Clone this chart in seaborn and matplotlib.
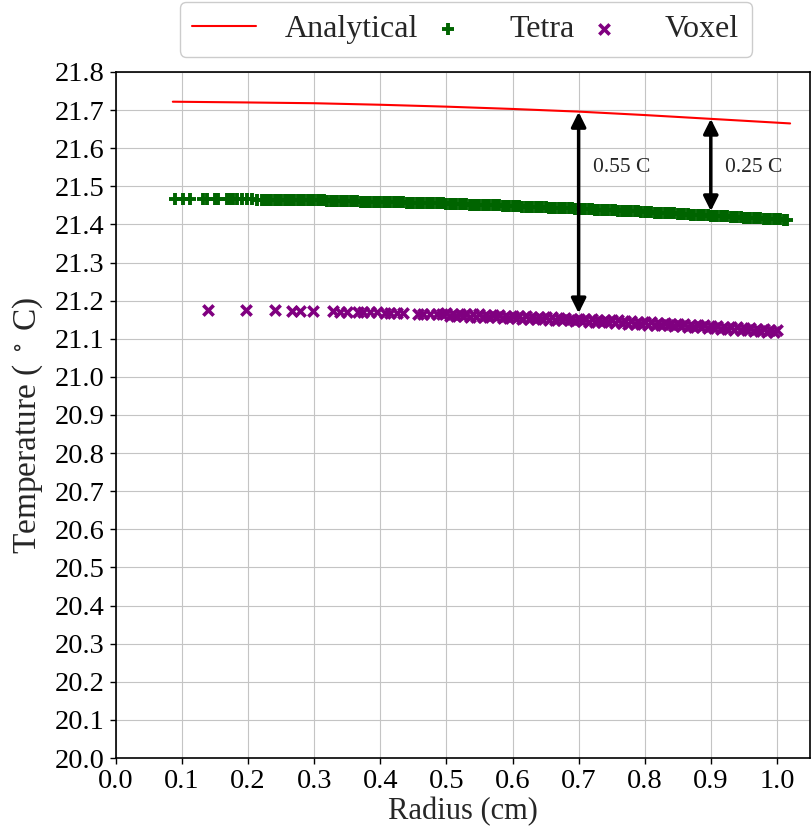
import matplotlib
matplotlib.use("Agg")
import matplotlib.pyplot as plt
import seaborn as sns
import pandas as pd

# ---------------- data ----------------
analytical_r = [0.086, 0.20, 0.30, 0.40, 0.50, 0.60, 0.70, 0.80, 0.90, 1.02]
analytical_t = [21.722, 21.720, 21.718, 21.714, 21.709, 21.703, 21.696, 21.687, 21.677, 21.665]

tetra_r = [0.089, 0.101, 0.112, 0.132, 0.138, 0.150, 0.155, 0.168, 0.172, 0.177,
           0.183, 0.190, 0.198, 0.206, 0.213, 0.221,
           0.225, 0.230, 0.235, 0.240, 0.245, 0.250, 0.255, 0.260, 0.265, 0.270,
           0.275, 0.280, 0.285, 0.290, 0.295, 0.300, 0.305, 0.310, 0.315, 0.320,
           0.325, 0.330, 0.335, 0.340, 0.345, 0.350, 0.355, 0.360, 0.365, 0.370,
           0.375, 0.380, 0.385, 0.390, 0.395, 0.400, 0.405, 0.410, 0.415, 0.420,
           0.425, 0.430, 0.435, 0.440, 0.445, 0.450, 0.455, 0.460, 0.465, 0.470,
           0.475, 0.480, 0.485, 0.490, 0.495, 0.500, 0.505, 0.510, 0.515, 0.520,
           0.525, 0.530, 0.535, 0.540, 0.545, 0.550, 0.555, 0.560, 0.565, 0.570,
           0.575, 0.580, 0.585, 0.590, 0.595, 0.600, 0.605, 0.610, 0.615, 0.620,
           0.625, 0.630, 0.635, 0.640, 0.645, 0.650, 0.655, 0.660, 0.665, 0.670,
           0.675, 0.680, 0.685, 0.690, 0.695, 0.700, 0.705, 0.710, 0.715, 0.720,
           0.725, 0.730, 0.735, 0.740, 0.745, 0.750, 0.755, 0.760, 0.765, 0.770,
           0.775, 0.780, 0.785, 0.790, 0.795, 0.800, 0.805, 0.810, 0.815, 0.820,
           0.825, 0.830, 0.835, 0.840, 0.845, 0.850, 0.855, 0.860, 0.865, 0.870,
           0.875, 0.880, 0.885, 0.890, 0.895, 0.900, 0.905, 0.910, 0.915, 0.920,
           0.925, 0.930, 0.935, 0.940, 0.945, 0.950, 0.955, 0.960, 0.965, 0.970,
           0.975, 0.980, 0.985, 0.990, 0.995, 1.000, 1.005, 1.010, 1.015]
tetra_t = [21.467, 21.467, 21.467, 21.467, 21.467, 21.466, 21.466, 21.466, 21.466, 21.466,
           21.466, 21.466, 21.466, 21.466, 21.465, 21.465,
           21.465, 21.465, 21.465, 21.465, 21.465, 21.465, 21.464, 21.464, 21.464, 21.464,
           21.464, 21.464, 21.464, 21.463, 21.463, 21.463, 21.463, 21.463, 21.463, 21.462,
           21.462, 21.462, 21.462, 21.462, 21.461, 21.461, 21.461, 21.461, 21.461, 21.460,
           21.460, 21.460, 21.460, 21.460, 21.459, 21.459, 21.459, 21.459, 21.459, 21.458,
           21.458, 21.458, 21.458, 21.457, 21.457, 21.457, 21.457, 21.456, 21.456, 21.456,
           21.456, 21.455, 21.455, 21.455, 21.455, 21.454, 21.454, 21.454, 21.453, 21.453,
           21.453, 21.453, 21.452, 21.452, 21.452, 21.451, 21.451, 21.451, 21.450, 21.450,
           21.450, 21.450, 21.449, 21.449, 21.449, 21.448, 21.448, 21.448, 21.447, 21.447,
           21.447, 21.446, 21.446, 21.445, 21.445, 21.445, 21.444, 21.444, 21.444, 21.443,
           21.443, 21.443, 21.442, 21.442, 21.441, 21.441, 21.441, 21.440, 21.440, 21.440,
           21.439, 21.439, 21.438, 21.438, 21.437, 21.437, 21.437, 21.436, 21.436, 21.435,
           21.435, 21.435, 21.434, 21.434, 21.433, 21.433, 21.432, 21.432, 21.431, 21.431,
           21.431, 21.430, 21.430, 21.429, 21.429, 21.428, 21.428, 21.427, 21.427, 21.426,
           21.426, 21.425, 21.425, 21.424, 21.424, 21.423, 21.423, 21.422, 21.422, 21.421,
           21.421, 21.420, 21.420, 21.419, 21.419, 21.418, 21.418, 21.417, 21.417, 21.416,
           21.416, 21.415, 21.415, 21.414, 21.414, 21.413, 21.413, 21.412, 21.411]

voxel_r = [0.139, 0.197, 0.241, 0.266, 0.278, 0.298, 0.328, 0.339, 0.349, 0.366,
           0.374, 0.384, 0.395, 0.407, 0.415, 0.425, 0.434, 0.457, 0.464, 0.475,
           0.486, 0.494,
           0.500, 0.505, 0.510, 0.515, 0.520, 0.525, 0.530, 0.535, 0.540, 0.545,
           0.550, 0.555, 0.560, 0.565, 0.570, 0.575, 0.580, 0.585, 0.590, 0.595,
           0.600, 0.605, 0.610, 0.615, 0.620, 0.625, 0.630, 0.635, 0.640, 0.645,
           0.650, 0.655, 0.660, 0.665, 0.670, 0.675, 0.680, 0.685, 0.690, 0.695,
           0.700, 0.705, 0.710, 0.715, 0.720, 0.725, 0.730, 0.735, 0.740, 0.745,
           0.750, 0.755, 0.760, 0.765, 0.770, 0.775, 0.780, 0.785, 0.790, 0.795,
           0.800, 0.805, 0.810, 0.815, 0.820, 0.825, 0.830, 0.835, 0.840, 0.845,
           0.850, 0.855, 0.860, 0.865, 0.870, 0.875, 0.880, 0.885, 0.890, 0.895,
           0.900, 0.905, 0.910, 0.915, 0.920, 0.925, 0.930, 0.935, 0.940, 0.945,
           0.950, 0.955, 0.960, 0.965, 0.970, 0.975, 0.980, 0.985, 0.990, 0.995,
           1.000]
voxel_t = [21.175, 21.175, 21.175, 21.174, 21.174, 21.173, 21.172, 21.171, 21.171, 21.170,
           21.170, 21.169, 21.169, 21.168, 21.168, 21.168, 21.167, 21.166, 21.166, 21.165,
           21.165, 21.164,
           21.167, 21.160, 21.166, 21.160, 21.165, 21.159, 21.165, 21.158, 21.164, 21.158,
           21.164, 21.157, 21.163, 21.157, 21.162, 21.156, 21.162, 21.155, 21.161, 21.155,
           21.160, 21.154, 21.159, 21.153, 21.159, 21.152, 21.158, 21.152, 21.157, 21.151,
           21.157, 21.150, 21.156, 21.149, 21.155, 21.149, 21.154, 21.148, 21.153, 21.147,
           21.153, 21.146, 21.152, 21.145, 21.151, 21.145, 21.150, 21.144, 21.149, 21.143,
           21.148, 21.142, 21.148, 21.141, 21.147, 21.140, 21.146, 21.139, 21.145, 21.138,
           21.144, 21.137, 21.143, 21.137, 21.142, 21.136, 21.141, 21.135, 21.140, 21.134,
           21.139, 21.133, 21.138, 21.132, 21.137, 21.131, 21.136, 21.130, 21.135, 21.129,
           21.134, 21.128, 21.133, 21.126, 21.132, 21.125, 21.131, 21.124, 21.130, 21.123,
           21.129, 21.122, 21.128, 21.121, 21.126, 21.120, 21.125, 21.119, 21.124, 21.118,
           21.123]

x_ticks = [0.0, 0.1, 0.2, 0.3, 0.4, 0.5, 0.6, 0.7, 0.8, 0.9, 1.0]
y_ticks = [20.0, 20.1, 20.2, 20.3, 20.4, 20.5, 20.6, 20.7, 20.8, 20.9, 21.0,
           21.1, 21.2, 21.3, 21.4, 21.5, 21.6, 21.7, 21.8]

# annotation arrows
arrow_x = [0.70, 0.90]
arrow_top = [21.695, 21.677]
arrow_bottom = [21.167, 21.435]
arrow_labels = ["0.55 C", "0.25 C"]
arrow_text_x = [0.722, 0.921]
arrow_text_y = [21.55, 21.55]

# ---------------- style ----------------
sns.set_style("whitegrid", {
    "axes.edgecolor": "black",
    "grid.color": "#c4c4c4",
    "xtick.bottom": True,
    "ytick.left": True,
})
plt.rcParams["font.family"] = ["Liberation Serif", "DejaVu Serif"]
plt.rcParams["mathtext.fontset"] = "stix"
plt.rcParams["xtick.color"] = "black"
plt.rcParams["ytick.color"] = "black"
plt.rcParams["xtick.major.size"] = 4.5
plt.rcParams["ytick.major.size"] = 4.5

fig = plt.figure(figsize=(8.11, 8.35), dpi=100)
ax = fig.add_axes([0.1430, 0.0922, 0.8557, 0.8216])

df_a = pd.DataFrame({"r": analytical_r, "t": analytical_t})
df_t = pd.DataFrame({"r": tetra_r, "t": tetra_t})
df_v = pd.DataFrame({"r": voxel_r, "t": voxel_t})

sns.lineplot(data=df_a, x="r", y="t", color="red", linewidth=1.5, label="Analytical", ax=ax, sort=False)
sns.scatterplot(data=df_t, x="r", y="t", marker="+", color="darkgreen", s=80, linewidth=2.8,
                label="Tetra", ax=ax, zorder=3)
sns.scatterplot(data=df_v, x="r", y="t", marker="x", color="purple", s=55, linewidth=2.6,
                label="Voxel", ax=ax, zorder=3)

for xa, yt, yb, lab, tx, ty in zip(arrow_x, arrow_top, arrow_bottom, arrow_labels,
                                    arrow_text_x, arrow_text_y):
    ax.annotate("", xy=(xa, yt), xytext=(xa, yb),
                arrowprops=dict(arrowstyle="<|-|>", color="black", lw=2.5,
                                mutation_scale=22, shrinkA=0, shrinkB=0), zorder=5)
    ax.text(tx, ty, lab, fontsize=15.5, va="center", ha="left")

ax.set_xlim(0, 1.05)
ax.set_ylim(20.0, 21.8)
ax.set_xticks(x_ticks)
ax.set_xticklabels([f"{v:.1f}" for v in x_ticks])
ax.set_yticks(y_ticks)
ax.set_yticklabels([f"{v:.1f}" for v in y_ticks])
ax.tick_params(axis="both", labelsize=20.5, direction="out", width=1)
ax.set_xlabel("Radius (cm)", fontsize=22, labelpad=2)
ax.set_ylabel("Temperature ( $^\\circ$ C)", fontsize=24)
ax.yaxis.set_label_coords(-0.102, 0.485)
for sp in ax.spines.values():
    sp.set_color("black")
    sp.set_linewidth(1.2)

ax.legend(loc="lower center", bbox_to_anchor=(0.504, 1.022), ncol=3, fontsize=23,
          frameon=True, borderaxespad=0, handlelength=2.0, handletextpad=0.9,
          columnspacing=-0.06, framealpha=1, edgecolor="#cccccc", fancybox=True)

fig.savefig("out.png", dpi=100)
